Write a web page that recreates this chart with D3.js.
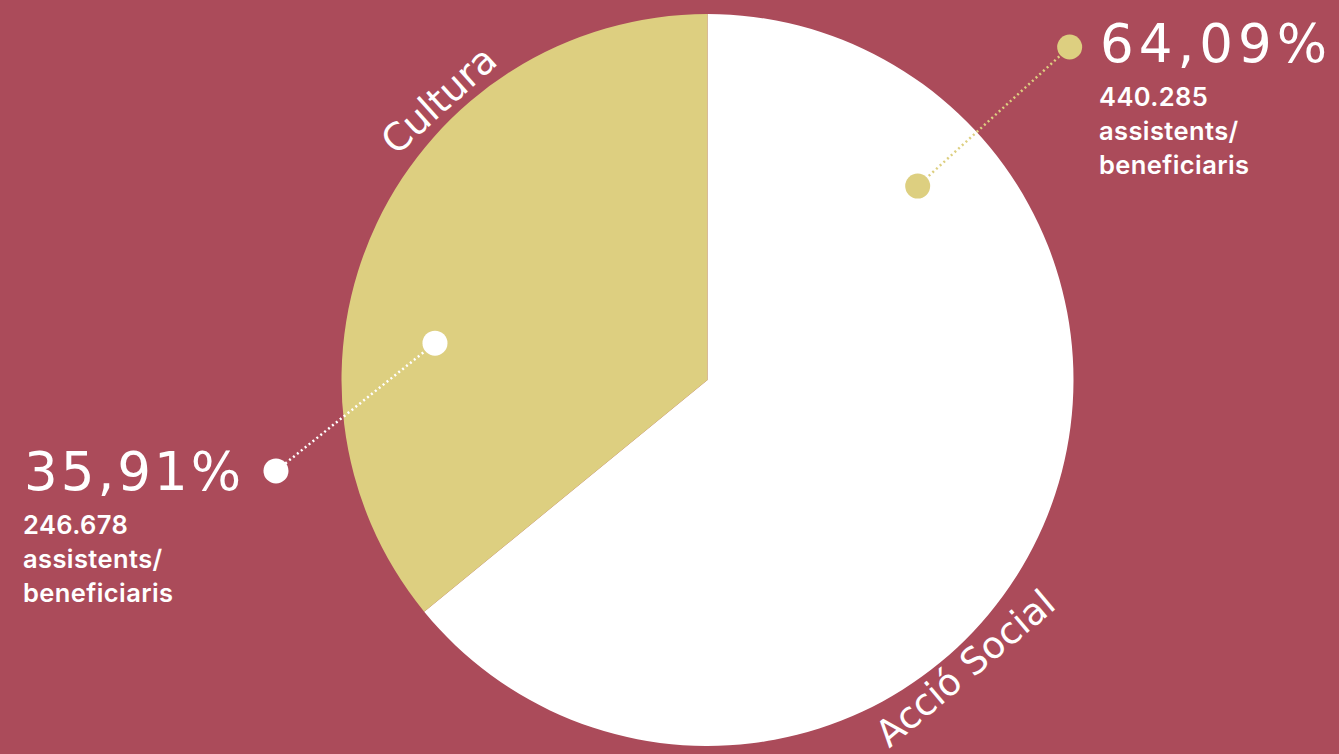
<!DOCTYPE html>
<html>
<head>
<meta charset="utf-8">
<script src="https://cdn.jsdelivr.net/npm/d3@7"></script>
<style>
  html, body { margin: 0; padding: 0; background: #ab4b5a; }
  svg { display: block; }
</style>
</head>
<body>
<div id="container"></div>
<script>
// data
const categories = ["Acció Social", "Cultura"];
const shares = [64.09, 35.91];
const counts = [440285, 246678];
const countLabel = ["assistents/", "beneficiaris"];

// styles
const sliceColors = ["#ffffff", "#ddcf80"];
const calloutColors = ["#ddcf80", "#ffffff"];
const bg = "#ab4b5a";

const width = 1339, height = 754;
const cx = 707.5, cy = 380, radius = 366;

// callout layout: angles in degrees clockwise from top
const callouts = [
  { inA: 47.3, inR: 286, outA: 47.4, outR: 492, tx: 1100, ty: 62 },
  { inA: 277.7, inR: 275, outA: 258.1, outR: 441, tx: 24, ty: 490 }
];
// category label layout
const labelPos = [
  { a: 138.2, r: 387, rot: -40, size: 37 },
  { a: 316.2, r: 388, rot: -42, size: 38 }
];

const ca = d3.formatLocale({ decimal: ",", thousands: ".", grouping: [3], currency: ["", "€"] });
const fmtPct = ca.format(".2f");
const fmtInt = ca.format(",d");

function polar(deg, r) {
  const t = deg * Math.PI / 180;
  return [cx + r * Math.sin(t), cy - r * Math.cos(t)];
}

const svg = d3.select("#container").append("svg")
  .attr("width", width).attr("height", height);

svg.append("rect").attr("width", width).attr("height", height).attr("fill", bg);

const pie = d3.pie().sort(null).value(d => d.share);
const arc = d3.arc().innerRadius(0).outerRadius(radius);
const data = categories.map((c, i) => ({ name: c, share: shares[i], count: counts[i], i }));

const g = svg.append("g").attr("transform", `translate(${cx},${cy})`);
g.selectAll("path").data(pie(data)).enter().append("path")
  .attr("d", arc)
  .attr("fill", d => sliceColors[d.data.i]);

// category labels
data.forEach((d, i) => {
  const p = labelPos[i];
  const [x, y] = polar(p.a, p.r);
  svg.append("text")
    .attr("transform", `translate(${x},${y}) rotate(${p.rot})`)
    .attr("text-anchor", "middle")
    .attr("dominant-baseline", "central")
    .attr("font-family", "DejaVu Sans")
    .attr("font-size", p.size)
    .attr("fill", "#fff")
    .text(d.name);
});

// callouts
data.forEach((d, i) => {
  const c = callouts[i];
  const [x1, y1] = polar(c.inA, c.inR);
  const [x2, y2] = polar(c.outA, c.outR);
  svg.append("line")
    .attr("x1", x1).attr("y1", y1).attr("x2", x2).attr("y2", y2)
    .attr("stroke", calloutColors[i])
    .attr("stroke-width", 2.5)
    .attr("stroke-dasharray", "2,3");
  [[x1, y1], [x2, y2]].forEach(([x, y]) => {
    svg.append("circle").attr("cx", x).attr("cy", y).attr("r", 12.5)
      .attr("fill", calloutColors[i]);
  });

  svg.append("text")
    .attr("x", c.tx).attr("y", c.ty)
    .attr("font-family", "DejaVu Sans")
    .attr("font-size", 53)
    .attr("letter-spacing", i === 0 ? 5 : 3)
    .attr("fill", "#fff")
    .text(fmtPct(d.share) + "%");

  const lines = [fmtInt(d.count)].concat(countLabel);
  svg.append("text")
    .attr("x", c.tx - 1)
    .attr("font-family", "Inter")
    .attr("font-weight", 600)
    .attr("font-size", 25.5)
    .attr("letter-spacing", 0.4)
    .attr("fill", "#fff")
    .selectAll("tspan").data(lines).enter().append("tspan")
    .attr("x", c.tx - 1)
    .attr("y", (t, k) => c.ty + 44 + k * 34)
    .text(t => t);
});
</script>
</body>
</html>
